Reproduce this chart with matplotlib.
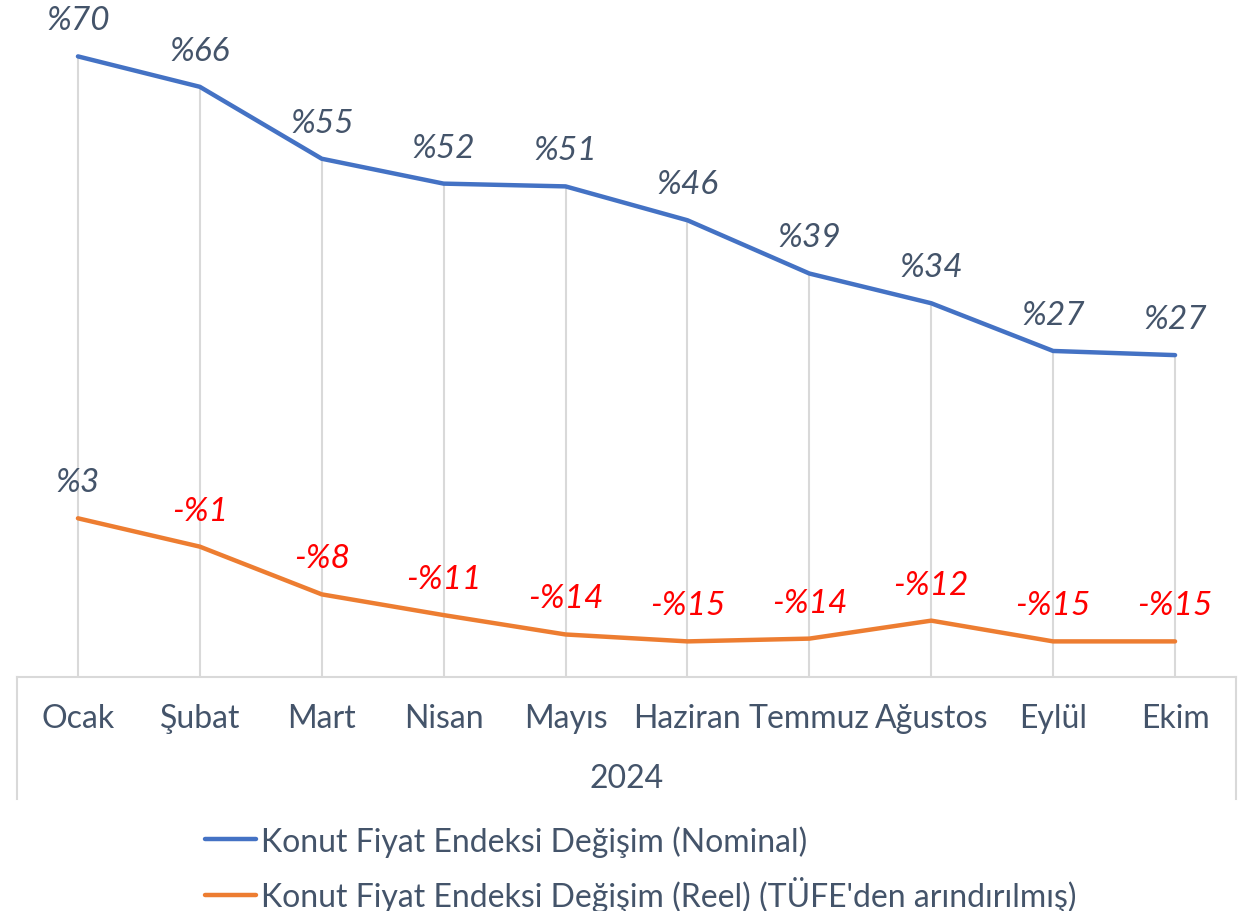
import matplotlib
matplotlib.use("Agg")
import matplotlib.pyplot as plt
import matplotlib.transforms as mtransforms

plt.rcParams['font.family'] = ['Lato', 'DejaVu Sans']

categories = ["Ocak", "Şubat", "Mart", "Nisan", "Mayıs", "Haziran",
              "Temmuz", "Ağustos", "Eylül", "Ekim"]
nominal = [70.0, 65.6, 55.2, 51.6, 51.2, 46.3, 38.6, 34.3, 27.4, 26.8]
real = [3.2, -0.9, -7.8, -10.8, -13.6, -14.6, -14.2, -11.6, -14.6, -14.6]
group_label = "2024"
series_names = ["Konut Fiyat Endeksi Değişim (Nominal)",
                "Konut Fiyat Endeksi Değişim (Reel) (TÜFE'den arındırılmış)"]

BLUE = "#4472C4"
ORANGE = "#ED7D31"
TEXT = "#44546A"
GRID = "#D9D9D9"
RED = "#FF0000"

W, H = 1251, 912
fig = plt.figure(figsize=(W / 100, H / 100), dpi=100)
ax_left, ax_right, ax_bottom_px = 17, 1236, 678
ax = fig.add_axes([ax_left / W, 1 - ax_bottom_px / H,
                   (ax_right - ax_left) / W, ax_bottom_px / H])

YMIN, YMAX = -19.75, 78.3
x = list(range(len(categories)))

# drop lines
ax.vlines(x, YMIN, nominal, color=GRID, lw=1.5, zorder=1)

l1, = ax.plot(x, nominal, color=BLUE, lw=3.2, solid_capstyle='round', zorder=3)
l2, = ax.plot(x, real, color=ORANGE, lw=3.2, solid_capstyle='round', zorder=3)

def fmt(v):
    r = round(v)
    return f"%{r}" if r >= 0 else f"-%{abs(r)}"

for series in (nominal, real):
    for xi, v in zip(x, series):
        ax.annotate(fmt(v), (xi, v), xytext=(0, 26), textcoords='offset points',
                    ha='center', va='center', fontsize=24, style='italic',
                    color=TEXT if round(v) >= 0 else RED)

ax.set_xlim(-0.5, len(categories) - 0.5)
ax.set_ylim(YMIN, YMAX)
ax.set_yticks([])
ax.set_xticks(x)
ax.set_xticklabels(categories, fontsize=23, color=TEXT)
ax.tick_params(axis='x', length=0, pad=19)
for s in ['top', 'left', 'right']:
    ax.spines[s].set_visible(False)
ax.spines['bottom'].set_color(GRID)
ax.spines['bottom'].set_linewidth(1.5)

# group bracket lines
trans = mtransforms.blended_transform_factory(ax.transData, ax.transAxes)
bracket_bottom = -(800 - 678) / 678
for xb in (-0.5, len(categories) - 0.5):
    ax.plot([xb, xb], [0, bracket_bottom], transform=trans, color=GRID,
            lw=1.5, clip_on=False)

ax.text(0.5, -(779 - 678) / 678, group_label, transform=ax.transAxes,
        ha='center', va='center', fontsize=23, color=TEXT)

leg = fig.legend([l1, l2], series_names, loc='upper left',
                 bbox_to_anchor=(205 / W, 1 - 826 / H), frameon=False,
                 fontsize=23, handlelength=1.6, handletextpad=0.15,
                 labelspacing=0.6, borderpad=0, borderaxespad=0)
for t in leg.get_texts():
    t.set_color(TEXT)

fig.savefig("out.png", dpi=100, facecolor='white')
